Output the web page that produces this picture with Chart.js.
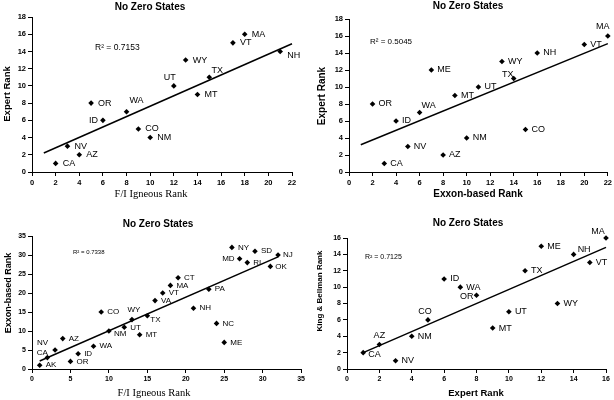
<!DOCTYPE html>
<html>
<head>
<meta charset="utf-8">
<script src="https://cdn.jsdelivr.net/npm/chart.js@4.4.0/dist/chart.umd.min.js"></script>
<style>
html, body { margin: 0; padding: 0; background: #fff; }
#wrap { position: relative; width: 614px; height: 400px; overflow: hidden; }
canvas { position: absolute; }
</style>
</head>
<body>
<div id="wrap">
  <canvas id="c1" width="307" height="200" style="left:0;top:0"></canvas>
  <canvas id="c2" width="307" height="200" style="left:307px;top:0"></canvas>
  <canvas id="c3" width="307" height="200" style="left:0;top:200px"></canvas>
  <canvas id="c4" width="307" height="200" style="left:307px;top:200px"></canvas>
</div>
<script>
// top left: F/I igneous rank vs expert rank
const fiExpertStates = ['CA', 'AZ', 'NV', 'ID', 'OR', 'WA', 'CO', 'NM', 'UT', 'WY', 'MT', 'TX', 'VT', 'MA', 'NH'];
const fiExpertX = [2, 4, 3, 6, 5, 8, 9, 10, 12, 13, 14, 15, 17, 18, 21];
const fiExpertY = [1, 2, 3, 6, 8, 7, 5, 4, 10, 13, 9, 11, 15, 16, 14];
const fiExpertTrendX = [1, 22];
const fiExpertTrendY = [2.2, 14.9];

// top right: exxon-based rank vs expert rank
const exxonExpertStates = ['OR', 'CA', 'ID', 'NV', 'WA', 'ME', 'AZ', 'MT', 'NM', 'UT', 'WY', 'TX', 'CO', 'NH', 'VT', 'MA'];
const exxonExpertX = [2, 3, 4, 5, 6, 7, 8, 9, 10, 11, 13, 14, 15, 16, 20, 22];
const exxonExpertY = [8, 1, 6, 3, 7, 12, 2, 9, 4, 10, 13, 11, 5, 14, 15, 16];
const exxonExpertTrendX = [1, 22];
const exxonExpertTrendY = [3.2, 15.1];

// bottom left: F/I igneous rank vs exxon-based rank
const fiExxonStates = ['AK', 'CA', 'NV', 'AZ', 'OR', 'ID', 'WA', 'CO', 'NM', 'UT', 'WY', 'MT', 'TX', 'VA',
    'VT', 'MA', 'CT', 'NH', 'PA', 'NC', 'ME', 'NY', 'MD', 'RI', 'SD', 'OK', 'NJ'];
const fiExxonX = [1, 2, 3, 4, 5, 6, 8, 9, 10, 12, 13, 14, 15, 16, 17, 18, 19, 21, 23, 24, 25, 26, 27, 28, 29, 31, 32];
const fiExxonY = [1, 3, 5, 8, 2, 4, 6, 15, 10, 11, 13, 9, 14, 18, 20, 22, 24, 16, 21, 12, 7, 32, 29, 28, 31, 27, 30];
const fiExxonTrendX = [1, 32];
const fiExxonTrendY = [2.1, 29.5];

// bottom right: expert rank vs king & bellman rank
const expertKbStates = ['CA', 'AZ', 'NV', 'NM', 'CO', 'ID', 'WA', 'OR', 'MT', 'UT', 'TX', 'ME', 'WY', 'NH', 'VT', 'MA'];
const expertKbX = [1, 2, 3, 4, 5, 6, 7, 8, 9, 10, 11, 12, 13, 14, 15, 16];
const expertKbY = [2, 3, 1, 4, 6, 11, 10, 9, 5, 7, 12, 15, 8, 14, 13, 16];
const expertKbTrendX = [1, 16];
const expertKbTrendY = [2.0, 14.85];

const SANS = '"Liberation Sans", Arial, sans-serif';
const SERIF = '"Liberation Serif", "Times New Roman", serif';

function makeAxis(max, step, tickSize, fit) {
    return {
        type: 'linear',
        min: 0,
        max: max,
        ticks: { stepSize: step, color: '#000', padding: 2, font: { family: SANS, size: tickSize, weight: 'bold' } },
        grid: { display: true, drawOnChartArea: false, drawTicks: true, tickLength: 4, color: '#000' },
        border: { display: true, color: '#000', width: 1 },
        afterFit: fit
    };
}

// draws the titles, R² note and state labels
function textPlugin(p) {
    return {
        id: 'panelText',
        afterDraw(chart) {
            const ctx = chart.ctx;
            ctx.save();
            ctx.fillStyle = '#000';
            ctx.textBaseline = 'middle';

            ctx.textAlign = 'center';
            ctx.font = 'bold 10px ' + SANS;
            ctx.fillText('No Zero States', p.title[0], p.title[1]);

            ctx.font = p.xTitle.font;
            ctx.fillText(p.xTitle.text, p.xTitle.x, p.xTitle.y);

            ctx.save();
            ctx.translate(p.yTitle.x, p.yTitle.y);
            ctx.rotate(-Math.PI / 2);
            ctx.font = p.yTitle.font;
            ctx.fillText(p.yTitle.text, 0, 0);
            ctx.restore();

            ctx.textAlign = 'left';
            ctx.font = p.r2.font;
            ctx.fillText(p.r2.text, p.r2.x, p.r2.y);

            ctx.font = p.labelFont;
            chart.getDatasetMeta(0).data.forEach((pt, i) => {
                const st = p.states[i];
                const off = p.offsets[st] || p.defaultOffset;
                ctx.textAlign = off[2];
                ctx.fillText(st, pt.x + off[0], pt.y + off[1]);
            });
            ctx.restore();
        }
    };
}

function makePanel(id, p) {
    const points = p.xs.map((x, i) => ({ x: x, y: p.ys[i] }));
    const trend = p.trendX.map((x, i) => ({ x: x, y: p.trendY[i] }));
    return new Chart(document.getElementById(id), {
        type: 'scatter',
        data: {
            datasets: [{
                data: points,
                pointStyle: 'rectRot',
                pointRadius: 2.8,
                backgroundColor: '#000',
                borderColor: '#000',
                borderWidth: 0,
                clip: false
            }, {
                type: 'line',
                data: trend,
                borderColor: '#000',
                borderWidth: 1.5,
                pointRadius: 0,
                fill: false,
                clip: false
            }]
        },
        options: {
            responsive: false,
            animation: false,
            devicePixelRatio: 1,
            layout: { padding: { top: p.pad[0], right: p.pad[1], bottom: 0, left: 0 } },
            plugins: { legend: { display: false }, tooltip: { enabled: false } },
            scales: {
                x: makeAxis(p.xMax, p.xStep, p.tickSize, s => { s.height = p.xHeight; }),
                y: makeAxis(p.yMax, p.yStep, p.tickSize, s => { s.width = p.yWidth; })
            }
        },
        plugins: [textPlugin(p)]
    });
}

makePanel('c1', {
    states: fiExpertStates, xs: fiExpertX, ys: fiExpertY, trendX: fiExpertTrendX, trendY: fiExpertTrendY,
    xMax: 22, xStep: 2, yMax: 18, yStep: 2, tickSize: 7.5,
    pad: [17, 15], yWidth: 32, xHeight: 28,
    title: [150, 7],
    xTitle: { text: 'F/I Igneous Rank', font: '10.5px ' + SERIF, x: 151, y: 194 },
    yTitle: { text: 'Expert Rank', font: 'bold 9.5px ' + SANS, x: 7, y: 94 },
    r2: { text: 'R² = 0.7153', font: '8.5px ' + SANS, x: 95, y: 48 },
    labelFont: '9px ' + SANS,
    defaultOffset: [7, 0, 'left'],
    offsets: { ID: [-5, 0, 'right'], WA: [10, -11, 'center'], UT: [-4, -8, 'center'], TX: [8, -7, 'center'], NH: [7, 4, 'left'] }
});

makePanel('c2', {
    states: exxonExpertStates, xs: exxonExpertX, ys: exxonExpertY, trendX: exxonExpertTrendX, trendY: exxonExpertTrendY,
    xMax: 22, xStep: 2, yMax: 18, yStep: 2, tickSize: 7.5,
    pad: [19, 5], yWidth: 42, xHeight: 28,
    title: [161, 6],
    xTitle: { text: 'Exxon-based Rank', font: 'bold 10px ' + SANS, x: 171, y: 194 },
    yTitle: { text: 'Expert Rank', font: 'bold 10px ' + SANS, x: 15, y: 96 },
    r2: { text: 'R² = 0.5045', font: '8px ' + SANS, x: 63, y: 42 },
    labelFont: '9px ' + SANS,
    defaultOffset: [6, 0, 'left'],
    offsets: { WA: [9, -7, 'center'], TX: [-6, -4, 'center'], MA: [-5, -9, 'center'] }
});

makePanel('c3', {
    states: fiExxonStates, xs: fiExxonX, ys: fiExxonY, trendX: fiExxonTrendX, trendY: fiExxonTrendY,
    xMax: 35, xStep: 5, yMax: 35, yStep: 5, tickSize: 7,
    pad: [36, 5], yWidth: 32, xHeight: 31,
    title: [158, 24],
    xTitle: { text: 'F/I Igneous Rank', font: '10.5px ' + SERIF, x: 154, y: 193 },
    yTitle: { text: 'Exxon-based Rank', font: 'bold 9px ' + SANS, x: 9, y: 93 },
    r2: { text: 'R² = 0.7338', font: '6px ' + SANS, x: 73, y: 52 },
    labelFont: '8px ' + SANS,
    defaultOffset: [6, 0, 'left'],
    offsets: {
        CA: [-5, -5, 'center'], NV: [-7, -7, 'right'], WY: [2, -10, 'center'], NM: [5, 3, 'left'],
        UT: [6, 1, 'left'], TX: [3, 4, 'left'], MD: [-5, 0, 'right'], OK: [5, 0, 'left'], NJ: [5, 0, 'left']
    }
});

makePanel('c4', {
    states: expertKbStates, xs: expertKbX, ys: expertKbY, trendX: expertKbTrendX, trendY: expertKbTrendY,
    xMax: 16, xStep: 2, yMax: 16, yStep: 2, tickSize: 7,
    pad: [38, 8], yWidth: 40, xHeight: 31,
    title: [161, 23],
    xTitle: { text: 'Expert Rank', font: 'bold 9.5px ' + SANS, x: 169, y: 193 },
    yTitle: { text: 'King & Bellman Rank', font: 'bold 8px ' + SANS, x: 13, y: 91 },
    r2: { text: 'R² = 0.7125', font: '7px ' + SANS, x: 58, y: 57 },
    labelFont: '9px ' + SANS,
    defaultOffset: [6, 0, 'left'],
    offsets: {
        CA: [5, 2, 'left'], AZ: [0, -9, 'center'], CO: [-3, -8, 'center'], OR: [-3, 1, 'right'],
        MA: [-8, -6, 'center'], NH: [4, -5, 'left']
    }
});
</script>
</body>
</html>
